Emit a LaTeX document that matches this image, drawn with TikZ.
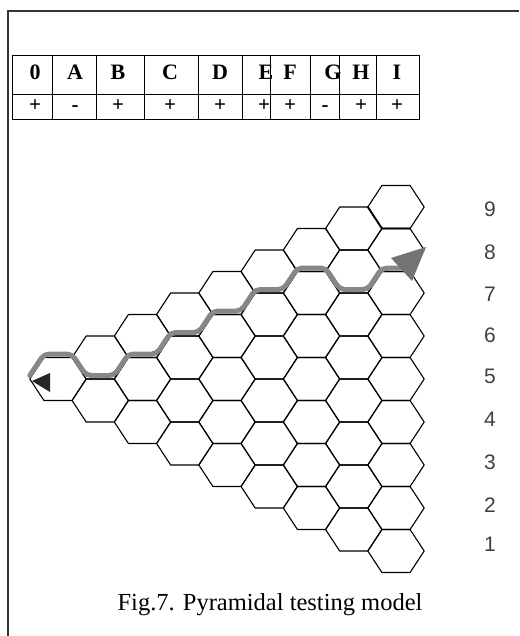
\documentclass[tikz,border=0pt]{standalone}
\usepackage{fontspec}
\setmainfont{Liberation Serif}
\newfontfamily\numfont{Liberation Sans}
\begin{document}
\begin{tikzpicture}[x=1pt,y=-1pt,
  frameline/.style={line width=1.4pt, draw=black!80},
  tabline/.style={line width=0.8pt},
  hexline/.style={line width=1.1pt, line join=round},
  hexthick/.style={line width=1.8pt, line cap=round},
  hdr/.style={anchor=base, inner sep=0pt, font=\fontsize{22}{22}\selectfont\bfseries},
  sgn/.style={anchor=base, inner sep=0pt, font=\fontsize{21}{21}\selectfont\bfseries},
  numlab/.style={anchor=center, inner sep=0pt, text=black!75, font=\numfont\fontsize{21}{21}\selectfont},
  trail/.style={line width=5pt, draw=black!47, rounded corners=5pt, line join=round, line cap=round},
  tipfill/.style={fill=black!55}]
\useasboundingbox (0,0) rectangle (519,636);

% frame
\draw[frameline] (8,636) -- (8,11) -- (519,11);

% table
\draw[tabline] (12.7,55) rectangle (419,119);
\draw[tabline] (12.7,94) -- (419,94);
\foreach \xx in {52.7,96.7,144,198.7,242,270.7,310,339.3,376.7}
  \draw[tabline] (\xx,55) -- (\xx,119);

\node[hdr] (h0) at (35,80) {0};
\node[hdr] (hA) at (75,80) {A};
\node[hdr] (hB) at (118,80) {B};
\node[hdr] (hC) at (170,80) {C};
\node[hdr] (hD) at (220,80) {D};
\node[hdr] (hE) at (266,80) {E};
\node[hdr] (hF) at (290,80) {F};
\node[hdr] (hG) at (333,80) {G};
\node[hdr] (hH) at (361,80) {H};
\node[hdr] (hI) at (397,80) {I};

\node[sgn] (s0) at (35,111.5) {+};
\node[sgn] (sA) at (75,111.5) {-};
\node[sgn] (sB) at (118,111.5) {+};
\node[sgn] (sC) at (170,111.5) {+};
\node[sgn] (sD) at (220,111.5) {+};
\node[sgn] (sE) at (264,111.5) {+};
\node[sgn] (sF) at (290,111.5) {+};
\node[sgn] (sG) at (325,111.5) {-};
\node[sgn] (sH) at (361,111.5) {+};
\node[sgn] (sI) at (397,111.5) {+};

% hexagon pyramid
\foreach \k in {1,...,9} {
  \pgfmathsetmacro\cx{58+42.25*(\k-1)}
  \foreach \i in {1,...,\k} {
    \pgfmathsetmacro\cy{379+43*(\i-1-(\k-1)/2)}
    \draw[hexline, shift={(\cx,\cy)}] (-28.17,0) -- (-14.08,-21.5) -- (14.08,-21.5) -- (28.17,0) -- (14.08,21.5) -- (-14.08,21.5) -- cycle;
  }
}
% emphasised edges
\draw[hexthick] (367.83,207) -- (381.92,228.5) -- (410.08,228.5);
\draw[hexthick] (381.92,529.5) -- (410.08,529.5);

% path through the pyramid
\begin{scope}[shift={(0,-3.5)}]
\draw[trail] (29.8,379) -- (44.1,357.5) -- (71.9,357.5) -- (86.2,379) -- (114.3,379)
  -- (128.4,357.5) -- (156.6,357.5) -- (170.7,336) -- (198.8,336) -- (212.9,314.5)
  -- (241.1,314.5) -- (255.2,293) -- (283.3,293) -- (297.4,271.5) -- (325.6,271.5)
  -- (339.7,293) -- (367.8,293) -- (381.9,271.5) -- (403,271.5);
\end{scope}
\fill[tipfill] (391,258) -- (426,247) -- (412,281) -- cycle;
\fill[black!85] (32,381) -- (50,373) -- (50,392) -- cycle;

% level numbers
\node[numlab] (n9) at (490,209) {9};
\node[numlab] (n8) at (490,252) {8};
\node[numlab] (n7) at (490,294) {7};
\node[numlab] (n6) at (490,335) {6};
\node[numlab] (n5) at (490,376) {5};
\node[numlab] (n4) at (490,419) {4};
\node[numlab] (n3) at (490,462) {3};
\node[numlab] (n2) at (490,505) {2};
\node[numlab] (n1) at (490,544) {1};

% caption
\node[anchor=base, inner sep=0pt, font=\fontsize{24.5}{24.5}\selectfont] (cap) at (270,610) {Fig.7. Pyramidal testing model};
\end{tikzpicture}
\end{document}
